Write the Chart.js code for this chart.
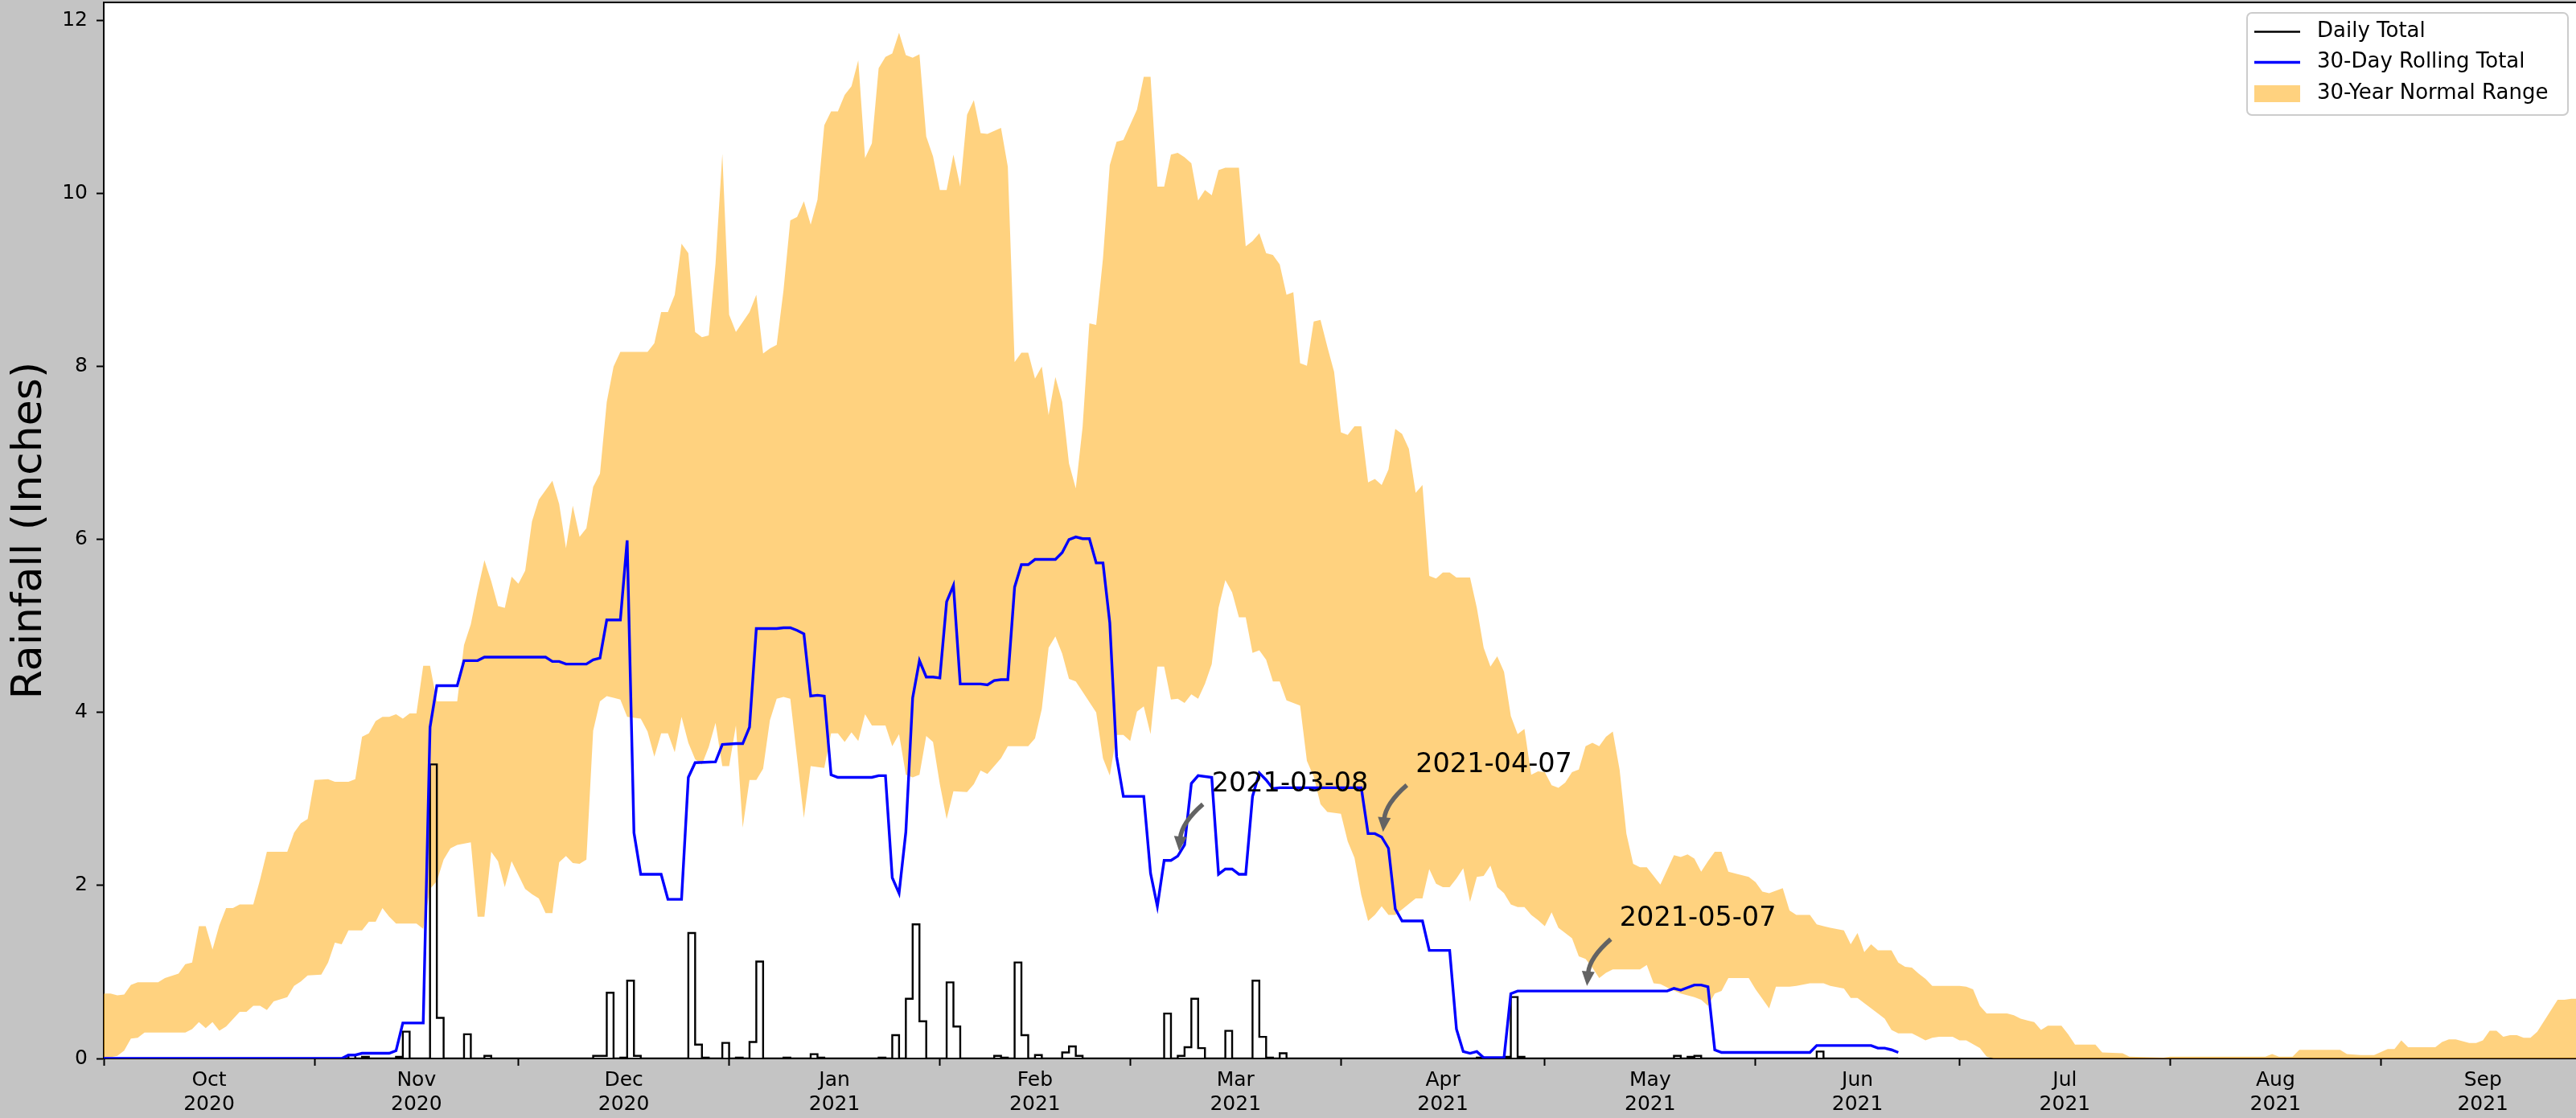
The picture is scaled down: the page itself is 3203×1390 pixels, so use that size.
<!DOCTYPE html>
<html>
<head>
<meta charset="utf-8">
<title>Rainfall</title>
<script src="https://cdn.jsdelivr.net/npm/chart.js@4.4.1/dist/chart.umd.min.js"></script>
<style>
  html, body { margin: 0; padding: 0; background: #c4c4c4; }
  canvas { display: block; }
</style>
</head>
<body>
<canvas id="rainChart" width="3203" height="1390"></canvas>
<script>
// x values are day numbers, day 0 = 2020-10-01
const monthStarts = [0, 31, 61, 92, 123, 151, 182, 212, 243, 273, 304, 335, 365];
const monthLabels = [['Oct', '2020'], ['Nov', '2020'], ['Dec', '2020'], ['Jan', '2021'],
  ['Feb', '2021'], ['Mar', '2021'], ['Apr', '2021'], ['May', '2021'], ['Jun', '2021'],
  ['Jul', '2021'], ['Aug', '2021'], ['Sep', '2021']];
const yTicks = [0, 2, 4, 6, 8, 10, 12];

// daily totals (days without rain are 0)
const lastDay = 264;
const rainDays = [36, 38, 43, 44, 48, 49, 53, 56, 72, 73, 74, 76, 77, 78, 86, 87, 88, 91, 93, 95,
  96, 100, 104, 105, 114, 116, 118, 119, 120, 124, 125, 131, 132, 134, 135, 137, 141, 142, 143, 156,
  158, 159, 160, 161, 165, 169, 170, 171, 173, 202, 206, 207, 208, 231, 233, 234, 252];
const rainInches = [0.04, 0.02, 0.02, 0.31, 3.40, 0.47, 0.28, 0.03, 0.03, 0.03, 0.76, 0.01, 0.90, 0.03, 1.45, 0.16, 0.01, 0.18, 0.01, 0.19,
  1.12, 0.01, 0.05, 0.01, 0.01, 0.27, 0.69, 1.55, 0.43, 0.88, 0.37, 0.03, 0.01, 1.11, 0.27, 0.04, 0.07, 0.14, 0.03, 0.52,
  0.03, 0.13, 0.69, 0.12, 0.32, 0.90, 0.25, 0.01, 0.06, 0.01, 0.02, 0.71, 0.02, 0.03, 0.02, 0.03, 0.08];

// 30-day rolling total (points where the line bends)
const rollingDays = [0, 35, 36, 37, 38, 42, 43, 44, 47, 48,
  49, 52, 53, 55, 56, 65, 66, 67, 68, 71,
  72, 73, 74, 76, 77, 78, 79, 82, 83, 85,
  86, 87, 90, 91, 93, 94, 95, 96, 99, 100,
  101, 102, 103, 104, 105, 106, 107, 108, 113, 114,
  115, 116, 117, 118, 119, 120, 121, 122, 123, 124,
  125, 126, 129, 130, 131, 132, 133, 134, 135, 136,
  137, 140, 141, 142, 143, 144, 145, 146, 147, 148,
  149, 150, 153, 154, 155, 156, 157, 158, 159, 160,
  161, 163, 164, 165, 166, 167, 168, 169, 170, 171,
  172, 173, 185, 186, 187, 188, 189, 190, 191, 194,
  195, 198, 199, 200, 201, 202, 203, 206, 207, 208,
  230, 231, 232, 234, 235, 236, 237, 238, 251, 252,
  260, 261, 262, 263, 264];
const rollingInches = [0, 0, 0.04, 0.04, 0.06, 0.06, 0.09, 0.41, 0.41, 3.83,
  4.31, 4.31, 4.60, 4.60, 4.64, 4.64, 4.59, 4.59, 4.56, 4.56,
  4.61, 4.63, 5.07, 5.07, 5.99, 2.61, 2.13, 2.13, 1.84, 1.84,
  3.25, 3.42, 3.43, 3.63, 3.64, 3.64, 3.83, 4.97, 4.97, 4.98,
  4.98, 4.95, 4.91, 4.19, 4.20, 4.19, 3.28, 3.25, 3.25, 3.27,
  3.27, 2.09, 1.91, 2.62, 4.17, 4.60, 4.41, 4.41, 4.40, 5.28,
  5.47, 4.33, 4.33, 4.32, 4.37, 4.38, 4.38, 5.45, 5.71, 5.71,
  5.77, 5.77, 5.85, 6.00, 6.03, 6.01, 6.01, 5.73, 5.73, 5.04,
  3.49, 3.03, 3.03, 2.14, 1.76, 2.29, 2.29, 2.34, 2.47, 3.18,
  3.27, 3.25, 2.13, 2.19, 2.19, 2.13, 2.13, 3.03, 3.30, 3.22,
  3.12, 3.13, 3.13, 2.60, 2.60, 2.56, 2.43, 1.73, 1.59, 1.59,
  1.25, 1.25, 0.34, 0.08, 0.06, 0.08, 0.01, 0.01, 0.75, 0.78,
  0.78, 0.81, 0.79, 0.85, 0.85, 0.83, 0.10, 0.07, 0.07, 0.15,
  0.15, 0.12, 0.12, 0.10, 0.07];

// 30-year normal range, upper edge
const normalHighDays = [0, 1, 2, 3, 4, 5, 8, 9, 11, 12,
  13, 14, 15, 16, 17, 18, 19, 20, 22, 23,
  24, 27, 28, 29, 30, 31, 33, 34, 36, 37,
  38, 39, 40, 41, 42, 43, 44, 45, 46, 47,
  48, 49, 52, 53, 54, 55, 56, 57, 58, 59,
  60, 61, 62, 63, 64, 65, 66, 67, 68, 69,
  70, 71, 72, 73, 74, 75, 76, 80, 81, 82,
  83, 84, 85, 86, 87, 88, 89, 90, 91, 92,
  93, 95, 96, 97, 98, 99, 100, 101, 102, 103,
  104, 105, 106, 107, 108, 109, 110, 111, 112, 113,
  114, 115, 116, 117, 118, 119, 120, 121, 122, 123,
  124, 125, 126, 127, 128, 129, 130, 132, 133, 134,
  135, 136, 137, 138, 139, 140, 141, 142, 143, 144,
  145, 146, 147, 148, 149, 150, 152, 153, 154, 155,
  156, 157, 158, 159, 160, 161, 162, 163, 164, 165,
  167, 168, 169, 170, 171, 172, 173, 174, 175, 176,
  177, 178, 179, 180, 181, 182, 183, 184, 185, 186,
  187, 188, 189, 190, 191, 192, 193, 194, 195, 196,
  197, 198, 199, 201, 202, 203, 204, 205, 206, 207,
  208, 209, 210, 211, 212, 213, 214, 215, 216, 217,
  218, 219, 220, 221, 222, 223, 224, 225, 226, 227,
  229, 231, 232, 233, 234, 235, 236, 237, 238, 239,
  240, 242, 243, 244, 245, 247, 248, 249, 251, 252,
  253, 254, 256, 257, 258, 259, 260, 261, 263, 264,
  265, 266, 267, 268, 269, 273, 274, 275, 276, 277,
  280, 281, 282, 283, 284, 285, 286, 288, 289, 290,
  293, 294, 297, 298, 303, 304, 318, 319, 320, 322,
  323, 329, 330, 332, 334, 336, 337, 338, 339, 343,
  344, 345, 346, 348, 349, 350, 351, 352, 353, 354,
  355, 356, 357, 358, 361, 362, 363, 364];
const normalHighInches = [0.75, 0.75, 0.73, 0.74, 0.85, 0.88, 0.88, 0.93, 0.98, 1.09,
  1.11, 1.53, 1.53, 1.26, 1.54, 1.74, 1.74, 1.78, 1.78, 2.07,
  2.39, 2.39, 2.61, 2.72, 2.77, 3.22, 3.23, 3.20, 3.20, 3.23,
  3.72, 3.76, 3.90, 3.95, 3.95, 3.98, 3.93, 3.99, 3.99, 4.54,
  4.54, 4.13, 4.13, 4.78, 5.02, 5.41, 5.76, 5.52, 5.23, 5.21,
  5.57, 5.49, 5.64, 6.21, 6.46, 6.57, 6.68, 6.41, 5.90, 6.39,
  6.03, 6.13, 6.61, 6.76, 7.59, 8.00, 8.17, 8.17, 8.27, 8.63,
  8.63, 8.83, 9.42, 9.31, 8.40, 8.34, 8.36, 9.19, 10.46, 8.60,
  8.40, 8.63, 8.83, 8.15, 8.21, 8.25, 8.88, 9.69, 9.73, 9.91,
  9.64, 9.93, 10.79, 10.95, 10.95, 11.14, 11.24, 11.54, 10.41, 10.58,
  11.45, 11.58, 11.62, 11.86, 11.60, 11.57, 11.61, 10.66, 10.43, 10.04,
  10.04, 10.45, 10.08, 10.91, 11.08, 10.70, 10.69, 10.76, 10.31, 8.05,
  8.16, 8.16, 7.86, 8.00, 7.44, 7.88, 7.59, 6.88, 6.59, 7.30,
  8.50, 8.48, 9.25, 10.33, 10.60, 10.62, 10.97, 11.35, 11.35, 10.08,
  10.08, 10.45, 10.47, 10.42, 10.35, 9.92, 10.04, 9.98, 10.27, 10.30,
  10.30, 9.39, 9.45, 9.54, 9.31, 9.29, 9.18, 8.83, 8.86, 8.04,
  8.01, 8.52, 8.54, 8.23, 7.94, 7.24, 7.21, 7.31, 7.31, 6.66,
  6.70, 6.63, 6.81, 7.28, 7.22, 7.05, 6.54, 6.63, 5.58, 5.55,
  5.62, 5.62, 5.56, 5.56, 5.21, 4.75, 4.53, 4.65, 4.47, 3.96,
  3.75, 3.81, 3.28, 3.32, 3.31, 3.16, 3.13, 3.19, 3.31, 3.34,
  3.61, 3.65, 3.61, 3.72, 3.78, 3.34, 2.60, 2.25, 2.21, 2.21,
  2.01, 2.35, 2.33, 2.36, 2.31, 2.16, 2.28, 2.39, 2.39, 2.16,
  2.14, 2.10, 2.04, 1.93, 1.91, 1.97, 1.71, 1.66, 1.66, 1.55,
  1.53, 1.51, 1.48, 1.32, 1.45, 1.23, 1.32, 1.25, 1.25, 1.11,
  1.06, 1.05, 0.98, 0.92, 0.84, 0.84, 0.83, 0.80, 0.61, 0.52,
  0.52, 0.50, 0.46, 0.44, 0.42, 0.33, 0.38, 0.38, 0.28, 0.16,
  0.16, 0.07, 0.06, 0.02, 0.01, 0.02, 0.02, 0.05, 0.02, 0.02,
  0.10, 0.10, 0.05, 0.04, 0.04, 0.11, 0.11, 0.21, 0.13, 0.13,
  0.19, 0.22, 0.22, 0.18, 0.18, 0.21, 0.32, 0.32, 0.25, 0.27,
  0.27, 0.24, 0.24, 0.31, 0.68, 0.68, 0.69, 0.69];

// 30-year normal range, lower edge
const normalLowDays = [0, 2, 3, 4, 5, 6, 12, 13, 14, 15,
  16, 17, 18, 20, 21, 22, 23, 24, 25, 27,
  28, 29, 30, 32, 33, 34, 35, 36, 38, 39,
  40, 41, 42, 43, 46, 47, 48, 49, 50, 51,
  52, 54, 55, 56, 57, 58, 59, 60, 62, 63,
  64, 65, 66, 67, 68, 69, 70, 71, 72, 73,
  74, 75, 76, 77, 79, 80, 81, 82, 83, 84,
  85, 86, 87, 88, 89, 90, 91, 92, 93, 94,
  95, 96, 97, 98, 99, 100, 101, 102, 103, 104,
  106, 107, 108, 109, 110, 111, 112, 113, 115, 116,
  117, 118, 119, 120, 121, 122, 123, 124, 125, 127,
  128, 129, 130, 132, 133, 136, 137, 138, 139, 140,
  141, 142, 143, 144, 146, 147, 148, 149, 150, 151,
  152, 153, 154, 155, 156, 157, 158, 159, 160, 161,
  162, 163, 164, 165, 166, 167, 168, 169, 170, 171,
  172, 173, 174, 175, 176, 177, 178, 179, 180, 182,
  183, 184, 185, 186, 187, 188, 189, 190, 193, 194,
  195, 196, 197, 198, 199, 200, 201, 202, 203, 204,
  205, 206, 207, 208, 209, 210, 211, 212, 213, 214,
  215, 216, 217, 218, 219, 220, 221, 222, 226, 227,
  228, 229, 230, 232, 234, 235, 236, 237, 238, 239,
  242, 243, 244, 245, 246, 248, 249, 251, 253, 254,
  256, 257, 258, 259, 261, 262, 263, 264, 266, 267,
  268, 269, 270, 272, 273, 274, 276, 277, 278, 364];
const normalLowInches = [0, 0.03, 0.09, 0.23, 0.24, 0.30, 0.30, 0.34, 0.42, 0.35,
  0.42, 0.32, 0.37, 0.54, 0.54, 0.61, 0.61, 0.56, 0.66, 0.71,
  0.84, 0.89, 0.96, 0.97, 1.11, 1.34, 1.32, 1.48, 1.48, 1.58,
  1.58, 1.74, 1.64, 1.56, 1.56, 1.50, 1.96, 2.05, 2.30, 2.43,
  2.47, 2.50, 1.64, 1.64, 2.39, 2.28, 1.98, 2.28, 1.96, 1.90,
  1.85, 1.68, 1.68, 2.27, 2.34, 2.26, 2.25, 2.30, 3.79, 4.13,
  4.19, 4.17, 4.15, 3.95, 3.93, 3.78, 3.49, 3.76, 3.76, 3.54,
  3.95, 3.65, 3.46, 3.40, 3.60, 3.88, 3.38, 3.38, 3.85, 2.67,
  3.22, 3.22, 3.35, 3.91, 4.16, 4.18, 4.16, 3.47, 2.78, 3.38,
  3.36, 3.76, 3.76, 3.66, 3.77, 3.67, 3.98, 3.85, 3.85, 3.61,
  3.75, 3.28, 3.25, 3.28, 3.73, 3.66, 3.17, 2.77, 3.09, 3.08,
  3.17, 3.33, 3.29, 3.47, 3.61, 3.61, 3.70, 4.04, 4.75, 4.88,
  4.68, 4.39, 4.36, 4.24, 4.00, 3.47, 3.27, 3.74, 3.74, 3.67,
  4.01, 4.07, 3.75, 4.53, 4.53, 4.15, 4.16, 4.11, 4.21, 4.16,
  4.33, 4.56, 5.21, 5.53, 5.39, 5.10, 5.10, 4.69, 4.72, 4.61,
  4.36, 4.36, 4.14, 4.11, 4.08, 3.44, 3.26, 2.94, 2.85, 2.83,
  2.51, 2.32, 1.89, 1.59, 1.66, 1.76, 1.66, 1.66, 1.85, 1.85,
  2.19, 2.02, 1.98, 1.98, 2.08, 2.20, 1.81, 2.10, 2.11, 2.23,
  1.98, 1.91, 1.78, 1.75, 1.75, 1.66, 1.60, 1.53, 1.69, 1.51,
  1.45, 1.39, 1.18, 1.15, 1.05, 0.93, 0.99, 1.03, 1.03, 1.08,
  0.87, 0.86, 0.82, 0.75, 0.71, 0.68, 0.61, 0.75, 0.78, 0.93,
  0.93, 0.80, 0.69, 0.58, 0.83, 0.83, 0.84, 0.87, 0.87, 0.84,
  0.81, 0.70, 0.70, 0.64, 0.52, 0.46, 0.33, 0.29, 0.29, 0.25,
  0.21, 0.24, 0.25, 0.25, 0.21, 0.21, 0.12, 0.02, 0, 0];

const noteDays = [158, 188, 218];
const noteLabels = ['2021-03-08', '2021-04-07', '2021-05-07'];

const FONT = '"DejaVu Sans", "Liberation Sans", sans-serif';
const RANGE_FILL = 'rgba(255, 165, 0, 0.5)';

const midMonths = monthLabels.map((_, i) => (monthStarts[i] + monthStarts[i + 1]) / 2);

function zip(xs, ys) {
  return xs.map((x, i) => ({ x: x, y: ys[i] }));
}

function buildDaily() {
  const pts = [];
  for (let d = 0; d <= lastDay; d++) {
    const k = rainDays.indexOf(d);
    pts.push({ x: d, y: k >= 0 ? rainInches[k] : 0 });
  }
  return pts;
}

function rollingAt(day) {
  for (let i = 1; i < rollingDays.length; i++) {
    if (rollingDays[i] >= day) {
      const t = (day - rollingDays[i - 1]) / (rollingDays[i] - rollingDays[i - 1]);
      return rollingInches[i - 1] + t * (rollingInches[i] - rollingInches[i - 1]);
    }
  }
  return rollingInches[rollingInches.length - 1];
}

const backdrop = {
  id: 'backdrop',
  beforeDraw(chart) {
    const { ctx, chartArea: a } = chart;
    ctx.save();
    ctx.fillStyle = '#c4c4c4';
    ctx.fillRect(0, 0, chart.width, chart.height);
    ctx.fillStyle = '#ffffff';
    ctx.fillRect(a.left, a.top, a.right - a.left, a.bottom - a.top);
    ctx.restore();
  },
  afterDraw(chart) {
    const { ctx, chartArea: a } = chart;
    ctx.save();
    ctx.strokeStyle = '#000000';
    ctx.lineWidth = 2;
    ctx.beginPath();
    ctx.moveTo(a.left - 1, a.top);
    ctx.lineTo(a.right, a.top);
    ctx.stroke();
    ctx.restore();
  }
};

const dateNotes = {
  id: 'dateNotes',
  afterDatasetsDraw(chart) {
    const { ctx, scales: { x, y } } = chart;
    ctx.save();
    noteDays.forEach((day, i) => {
      const v = rollingAt(day);
      const sx = x.getPixelForValue(day + 3.7), sy = y.getPixelForValue(v + 0.6);
      const ex = x.getPixelForValue(day + 0.2), ey = y.getPixelForValue(v + 0.06);
      const dx = ex - sx, dy = ey - sy;
      const cx = (sx + ex) / 2 - 0.2 * dy, cy = (sy + ey) / 2 + 0.2 * dx;
      let ux = ex - cx, uy = ey - cy;
      const len = Math.hypot(ux, uy);
      ux /= len; uy /= len;
      const headLen = 18, headHalf = 8;
      const bx = ex - ux * headLen, by = ey - uy * headLen;

      ctx.strokeStyle = '#636363';
      ctx.fillStyle = '#636363';
      ctx.lineWidth = 5.5;
      ctx.beginPath();
      ctx.moveTo(sx, sy);
      ctx.quadraticCurveTo(cx, cy, bx + ux * 2, by + uy * 2);
      ctx.stroke();
      ctx.beginPath();
      ctx.moveTo(ex, ey);
      ctx.lineTo(bx - uy * headHalf, by + ux * headHalf);
      ctx.lineTo(bx + uy * headHalf, by - ux * headHalf);
      ctx.closePath();
      ctx.fill();

      ctx.fillStyle = '#000000';
      ctx.font = '33.5px ' + FONT;
      ctx.textAlign = 'left';
      ctx.textBaseline = 'alphabetic';
      ctx.fillText(noteLabels[i], x.getPixelForValue(day + 5), y.getPixelForValue(v + 0.75));
    });
    ctx.restore();
  }
};

const legendBox = {
  id: 'legendBox',
  afterDraw(chart) {
    const { ctx, chartArea: a } = chart;
    const w = 399, h = 127;
    const left = a.right - 10 - w, top = a.top + 13;
    const rows = [23.5, 61.5, 100.5];
    ctx.save();
    ctx.beginPath();
    ctx.roundRect(left, top, w, h, 6);
    ctx.fillStyle = 'rgba(255,255,255,0.8)';
    ctx.fill();
    ctx.strokeStyle = '#cccccc';
    ctx.lineWidth = 2;
    ctx.stroke();

    const entries = chart.data.datasets.filter(ds => ds.label);
    entries.forEach((ds, i) => {
      const cy = top + rows[i];
      if (ds.fill) {
        ctx.fillStyle = ds.backgroundColor;
        ctx.fillRect(left + 9, cy - 10.5, 57, 21);
      } else {
        ctx.strokeStyle = ds.borderColor;
        ctx.lineWidth = ds.borderWidth;
        ctx.beginPath();
        ctx.moveTo(left + 9, cy);
        ctx.lineTo(left + 66, cy);
        ctx.stroke();
      }
      ctx.fillStyle = '#000000';
      ctx.font = '26px ' + FONT;
      ctx.textAlign = 'left';
      ctx.textBaseline = 'middle';
      ctx.fillText(ds.label, left + 87, cy);
    });
    ctx.restore();
  }
};

let rainChart;

function createRainChart() {
  const ctx = document.getElementById('rainChart').getContext('2d');
  rainChart = new Chart(ctx, {
    type: 'line',
    data: {
      datasets: [{
        label: 'Daily Total',
        data: buildDaily(),
        borderColor: '#000000',
        borderWidth: 2.4,
        stepped: true,
        pointRadius: 0,
        fill: false,
        order: 1
      }, {
        label: '30-Day Rolling Total',
        data: zip(rollingDays, rollingInches),
        borderColor: '#0000ff',
        borderWidth: 3.4,
        pointRadius: 0,
        tension: 0,
        fill: false,
        order: 0
      }, {
        label: '30-Year Normal Range',
        data: zip(normalHighDays, normalHighInches),
        borderColor: 'rgba(0,0,0,0)',
        borderWidth: 0,
        backgroundColor: RANGE_FILL,
        pointRadius: 0,
        tension: 0,
        fill: { target: 3 },
        order: 2
      }, {
        data: zip(normalLowDays, normalLowInches),
        borderColor: 'rgba(0,0,0,0)',
        borderWidth: 0,
        pointRadius: 0,
        tension: 0,
        fill: false,
        order: 3
      }]
    },
    options: {
      responsive: false,
      animation: false,
      devicePixelRatio: 1,
      layout: { padding: { top: 3, right: 0, bottom: 0, left: 0 } },
      plugins: {
        legend: { display: false },
        tooltip: { enabled: false }
      },
      scales: {
        x: {
          type: 'linear',
          min: 0,
          max: 363.7,
          afterBuildTicks: function(scale) {
            scale.ticks = monthStarts.slice(0, 12).concat(midMonths)
              .sort((a, b) => a - b)
              .map(v => ({ value: v }));
          },
          afterFit: function(scale) {
            scale.height = 74;
            scale.paddingLeft = 0;
            scale.paddingRight = 0;
          },
          grid: {
            drawOnChartArea: false,
            tickLength: 9,
            tickWidth: 2,
            tickColor: function(c) {
              return c.tick && midMonths.includes(c.tick.value) ? 'rgba(0,0,0,0)' : '#000000';
            }
          },
          border: { display: true, color: '#000000', width: 2 },
          ticks: {
            autoSkip: false,
            maxRotation: 0,
            padding: 3,
            color: '#000000',
            font: { family: FONT, size: 25, lineHeight: 1.2 },
            callback: function(value) {
              const k = midMonths.indexOf(value);
              return k >= 0 ? monthLabels[k] : '';
            }
          }
        },
        y: {
          min: 0,
          max: 12.21,
          afterBuildTicks: function(scale) {
            scale.ticks = yTicks.map(v => ({ value: v }));
          },
          afterFit: function(scale) {
            scale.width = 129;
            scale.paddingTop = 0;
            scale.paddingBottom = 0;
          },
          grid: {
            drawOnChartArea: false,
            tickLength: 9,
            tickWidth: 2,
            tickColor: '#000000'
          },
          border: { display: true, color: '#000000', width: 2 },
          ticks: {
            padding: 11,
            color: '#000000',
            font: { family: FONT, size: 25 }
          },
          title: {
            display: true,
            text: 'Rainfall (Inches)',
            color: '#000000',
            font: { family: FONT, size: 52 },
            padding: { top: 6, bottom: 0 }
          }
        }
      }
    },
    plugins: [backdrop, dateNotes, legendBox]
  });
}

document.addEventListener('DOMContentLoaded', () => {
  createRainChart();
});
</script>
</body>
</html>
